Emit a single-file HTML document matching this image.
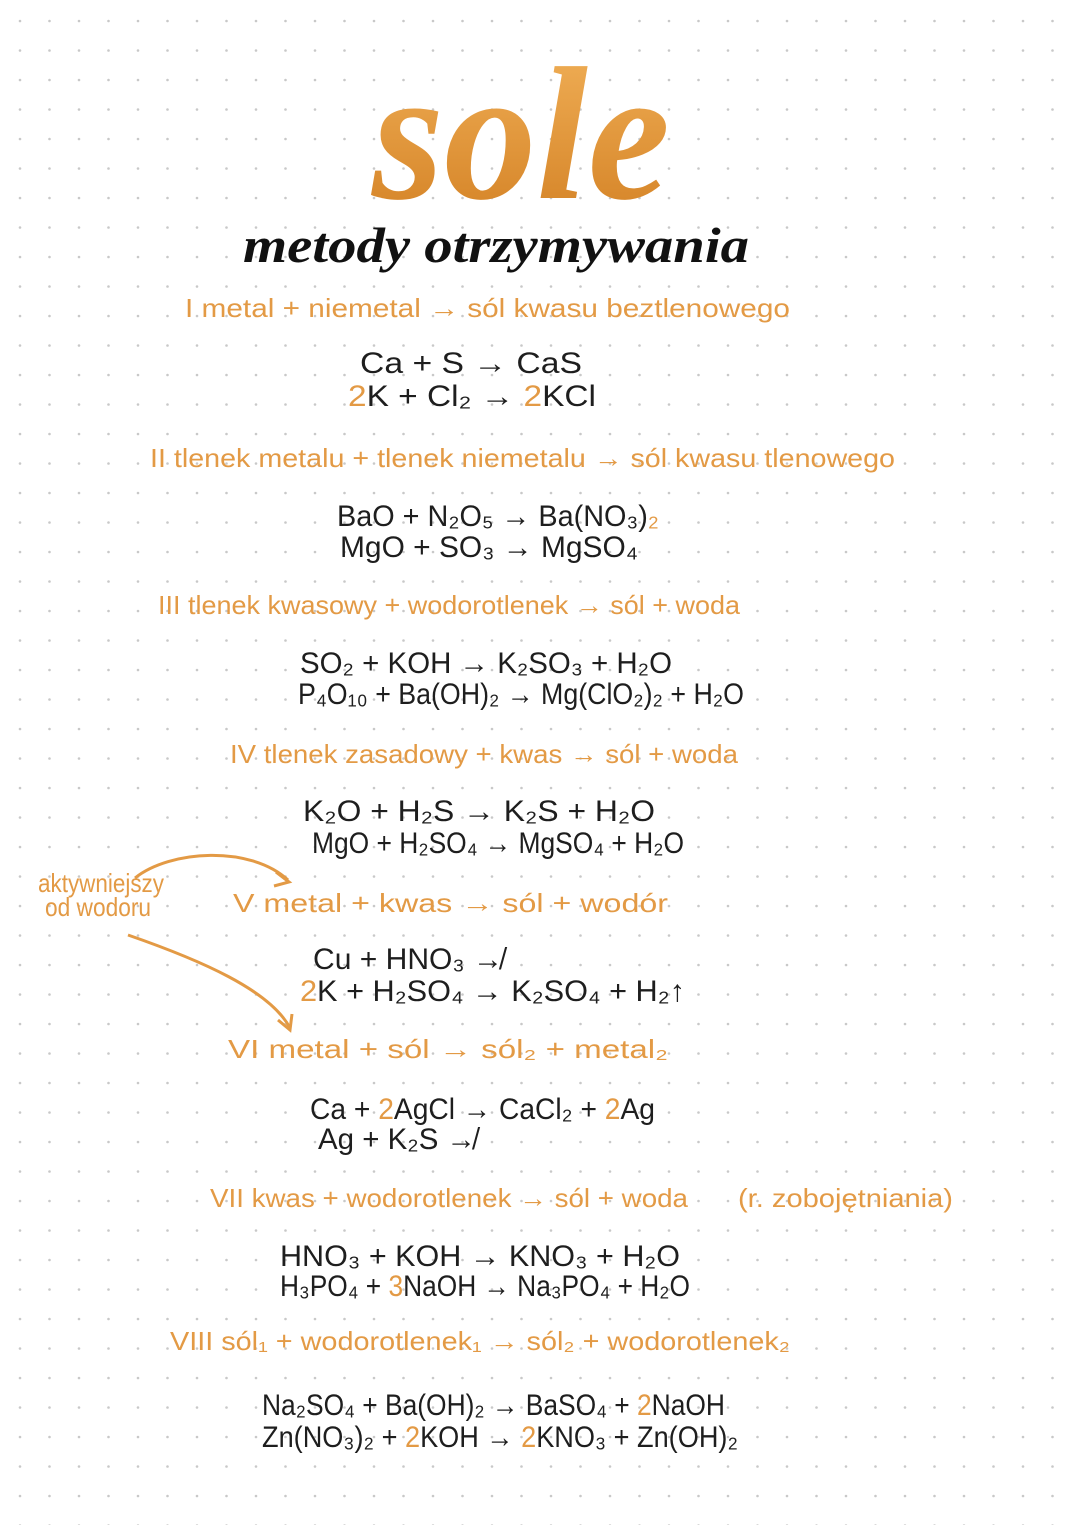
<!DOCTYPE html>
<html><head><meta charset="utf-8"><style>
html,body{margin:0;padding:0;background:#fff}
svg{display:block}
.o{fill:#e39a45;font-family:"Liberation Sans",sans-serif;font-size:26px}
.b{fill:#1e1e1e;font-family:"Liberation Sans",sans-serif;font-size:30px}
.bo{fill:#e39a45}
</style></head><body>
<svg width="1080" height="1525" viewBox="0 0 1080 1525" xmlns="http://www.w3.org/2000/svg">
<defs>
<pattern id="d" x="5" y="6" width="29.5" height="29.5" patternUnits="userSpaceOnUse"><circle cx="15" cy="15" r="1.3" fill="#c8c8c8"/></pattern>
<linearGradient id="g" x1="0" y1="0" x2="0" y2="1"><stop offset="0" stop-color="#f2b25a"/><stop offset="1" stop-color="#d27f22"/></linearGradient>
</defs>
<rect width="1080" height="1525" fill="url(#d)"/>
<text x="372" y="198" font-family="Liberation Serif,serif" font-style="italic" font-weight="bold" font-size="190" fill="url(#g)" textLength="298" lengthAdjust="spacingAndGlyphs">sole</text>
<text x="243" y="262" font-family="Liberation Serif,serif" font-style="italic" font-weight="bold" font-size="50" fill="#111" textLength="506" lengthAdjust="spacingAndGlyphs">metody otrzymywania</text>

<text class="o" x="185" y="317" textLength="605" lengthAdjust="spacingAndGlyphs">I  metal + niemetal → sól kwasu beztlenowego</text>
<text class="b" x="360" y="373" textLength="222" lengthAdjust="spacingAndGlyphs">Ca +  S → CaS</text>
<text class="b" x="348" y="406" textLength="248" lengthAdjust="spacingAndGlyphs"><tspan class="bo">2</tspan>K +  Cl₂ → <tspan class="bo">2</tspan>KCl</text>

<text class="o" x="150" y="467" textLength="745" lengthAdjust="spacingAndGlyphs">II  tlenek metalu + tlenek niemetalu → sól kwasu tlenowego</text>
<text class="b" x="337" y="526" textLength="322" lengthAdjust="spacingAndGlyphs">BaO + N₂O₅ → Ba(NO₃)<tspan class="bo">₂</tspan></text>
<text class="b" x="340" y="557" textLength="298" lengthAdjust="spacingAndGlyphs">MgO + SO₃ →  MgSO₄</text>

<text class="o" x="158" y="614" textLength="582" lengthAdjust="spacingAndGlyphs">III  tlenek kwasowy + wodorotlenek → sól + woda</text>
<text class="b" x="300" y="673" textLength="372" lengthAdjust="spacingAndGlyphs">SO₂ + KOH → K₂SO₃ + H₂O</text>
<text class="b" x="298" y="704" textLength="446" lengthAdjust="spacingAndGlyphs">P₄O₁₀ + Ba(OH)₂ → Mg(ClO₂)₂ + H₂O</text>

<text class="o" x="230" y="763" textLength="508" lengthAdjust="spacingAndGlyphs">IV  tlenek zasadowy + kwas → sól + woda</text>
<text class="b" x="303" y="821" textLength="352" lengthAdjust="spacingAndGlyphs">K₂O + H₂S → K₂S + H₂O</text>
<text class="b" x="312" y="853" textLength="372" lengthAdjust="spacingAndGlyphs">MgO + H₂SO₄ → MgSO₄ + H₂O</text>

<text class="o" x="38" y="892" font-size="18" textLength="126" lengthAdjust="spacingAndGlyphs">aktywniejszy</text>
<text class="o" x="45" y="916" font-size="18" textLength="106" lengthAdjust="spacingAndGlyphs">od wodoru</text>
<path d="M135 878 C170 850 250 845 288 880" stroke="#e39a45" stroke-width="3" fill="none"/>
<path d="M276 872 L289 882 L274 886" stroke="#e39a45" stroke-width="3" fill="none"/>
<path d="M128 935 C200 960 270 990 290 1028" stroke="#e39a45" stroke-width="3" fill="none"/>
<path d="M278 1020 L290 1030 L292 1014" stroke="#e39a45" stroke-width="3" fill="none"/>

<text class="o" x="233" y="912" textLength="435" lengthAdjust="spacingAndGlyphs">V  metal + kwas → sól + wodór</text>
<text class="b" x="313" y="969" textLength="190" lengthAdjust="spacingAndGlyphs">Cu + HNO₃ ↛</text>
<text class="b" x="300" y="1001" textLength="385" lengthAdjust="spacingAndGlyphs"><tspan class="bo">2</tspan>K + H₂SO₄ → K₂SO₄ + H₂↑</text>

<text class="o" x="228" y="1058" textLength="440" lengthAdjust="spacingAndGlyphs">VI  metal + sól → sól₂ + metal₂</text>
<text class="b" x="310" y="1119" textLength="345" lengthAdjust="spacingAndGlyphs">Ca + <tspan class="bo">2</tspan>AgCl → CaCl₂ + <tspan class="bo">2</tspan>Ag</text>
<text class="b" x="318" y="1149" textLength="158" lengthAdjust="spacingAndGlyphs">Ag + K₂S ↛</text>

<text class="o" x="210" y="1207" textLength="478" lengthAdjust="spacingAndGlyphs">VII  kwas + wodorotlenek → sól + woda</text>
<text class="o" x="738" y="1207" textLength="215" lengthAdjust="spacingAndGlyphs">(r. zobojętniania)</text>
<text class="b" x="280" y="1266" textLength="400" lengthAdjust="spacingAndGlyphs">HNO₃ + KOH → KNO₃ + H₂O</text>
<text class="b" x="280" y="1296" textLength="410" lengthAdjust="spacingAndGlyphs">H₃PO₄ + <tspan class="bo">3</tspan>NaOH → Na₃PO₄ + H₂O</text>

<text class="o" x="170" y="1350" textLength="620" lengthAdjust="spacingAndGlyphs">VIII  sól₁ + wodorotlenek₁ → sól₂ + wodorotlenek₂</text>
<text class="b" x="262" y="1415" textLength="463" lengthAdjust="spacingAndGlyphs">Na₂SO₄ + Ba(OH)₂ → BaSO₄ + <tspan class="bo">2</tspan>NaOH</text>
<text class="b" x="262" y="1447" textLength="476" lengthAdjust="spacingAndGlyphs">Zn(NO₃)₂ + <tspan class="bo">2</tspan>KOH → <tspan class="bo">2</tspan>KNO₃ + Zn(OH)₂</text>
</svg>
</body></html>
